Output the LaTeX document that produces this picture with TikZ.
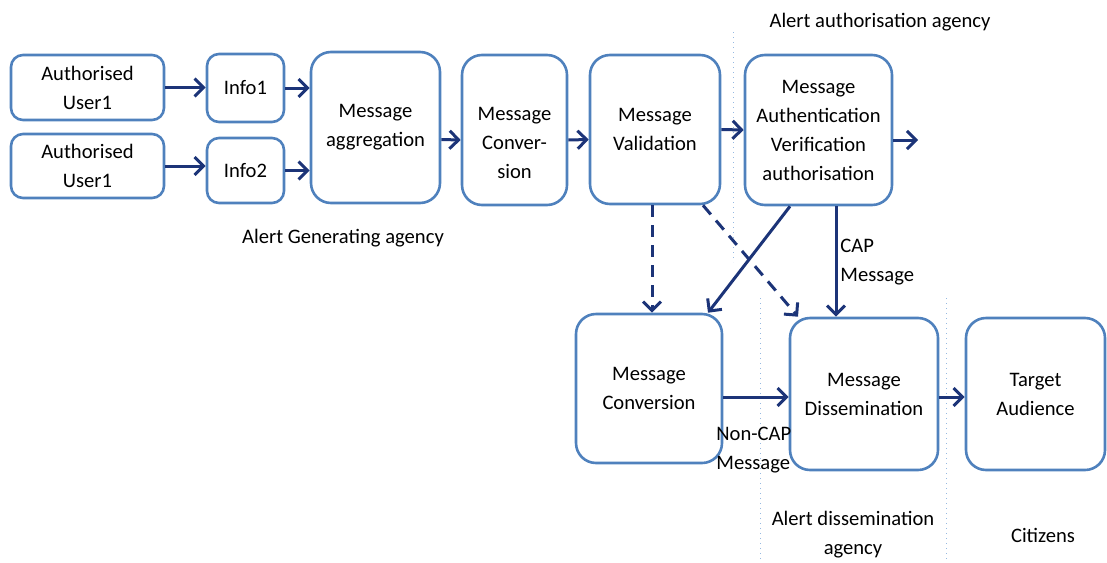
\documentclass[tikz,border=0pt]{standalone}
\usepackage{fontspec}
\setmainfont{Carlito}
\usetikzlibrary{arrows.meta}
\definecolor{boxblue}{RGB}{79,129,189}
\definecolor{arrblue}{RGB}{28,52,120}
\definecolor{sepblue}{RGB}{150,185,225}
\begin{document}
\begin{tikzpicture}[x=0.5pt,y=-0.5pt,
 box/.style={draw=boxblue, line width=1.3pt, rounded corners=10pt, align=center, inner sep=0pt, fill=white},
 sbox/.style={box, rounded corners=6pt},
 arr/.style={draw=arrblue, line width=1.5pt, -{Straight Barb[length=4.5pt,width=9pt]}},
 darr/.style={arr, dash pattern=on 6pt off 4pt},
 sep/.style={draw=sepblue, line width=0.5pt, dotted},
 lbl/.style={align=center, inner sep=0pt},
 font=\fontsize{10.3}{14.5}\selectfont]
\useasboundingbox (0,0) rectangle (1107,562);
% separators
\draw[sep] (733,32) -- (733,262);
\draw[sep] (760,298) -- (760,562);
\draw[sep] (946,298) -- (946,562);
% boxes
\node[sbox, minimum width=76.5pt, minimum height=32.5pt] (au1) at (87.5,87.5) {Authorised\\User1};
\node[sbox, minimum width=76.5pt, minimum height=32pt] (au2) at (87.5,166) {Authorised\\User1};
\node[sbox, minimum width=38.5pt, minimum height=34pt] (info1) at (245.5,88) {Info1};
\node[sbox, minimum width=38.5pt, minimum height=32.5pt] (info2) at (245.5,170.5) {Info2};
\node[box, minimum width=64.5pt, minimum height=75.5pt] (agg) at (375.5,127.5) {Message\\aggregation};
\node[box, minimum width=52.5pt, minimum height=75pt,
  label={[lbl, yshift=-6.5pt]center:{Message\\Conver-\\sion}}] (conv1) at (514.5,130) {};
\node[box, minimum width=65pt, minimum height=74.5pt] (valid) at (655,129.5) {Message\\Validation};
\node[box, minimum width=73.5pt, minimum height=75pt] (auth) at (818.5,130) {Message\\Authentication\\Verification\\authorisation};
\node[box, minimum width=73pt, minimum height=74.5pt] (conv2) at (649,388.5) {Message\\Conversion};
\node[box, minimum width=74pt, minimum height=76pt] (diss) at (864,394) {Message\\Dissemination};
\node[box, minimum width=69.5pt, minimum height=76pt] (target) at (1035.5,394) {Target\\Audience};
\coordinate (out) at (918,140);
% labels
\node[lbl] (lauth) at (880,22) {Alert authorisation agency};
\node[lbl] (lgen) at (343,238) {Alert Generating agency};
\node[lbl, align=left, anchor=west] (lcap) at (840,262) {CAP\\Message};
\node[lbl, align=left, anchor=west] (lnoncap) at (716,450) {Non-CAP\\Message};
\node[lbl] (ldiss) at (853,535) {Alert dissemination\\agency};
\node[lbl] (lcit) at (1043,535) {Citizens};
% arrows
\draw[arr] (au1.east) -- (au1.east -| info1.west);
\draw[arr] (info1.east) -- (info1.east -| agg.west);
\draw[arr] (au2.east) -- (au2.east -| info2.west);
\draw[arr] (info2.east) -- (info2.east -| agg.west);
\draw[arr] ([yshift=-6pt]agg.east) -- ([yshift=-5pt]conv1.west);
\draw[arr] ([yshift=-5pt]conv1.east) -- ([yshift=-5pt]valid.west);
\draw[arr] (valid.east) -- (auth.west);
\draw[arr] ([yshift=-5pt]auth.east) -- (out);
\draw[darr] ([xshift=-1.5pt]valid.south) -- ([xshift=1.5pt]conv2.north);
\draw[darr] ([xshift=24pt]valid.south) -- ([xshift=-33pt]diss.north);
\draw[arr] ([xshift=-14.25pt]auth.south) -- ([xshift=29.5pt]conv2.north);
\draw[arr] ([xshift=8.75pt]auth.south) -- ([xshift=-14pt]diss.north);
\draw[arr] ([yshift=-4.25pt]conv2.east) -- ([yshift=-1.5pt]diss.west);
\draw[arr] ([yshift=-1.5pt]diss.east) -- ([yshift=-1.5pt]target.west);
\end{tikzpicture}
\end{document}
